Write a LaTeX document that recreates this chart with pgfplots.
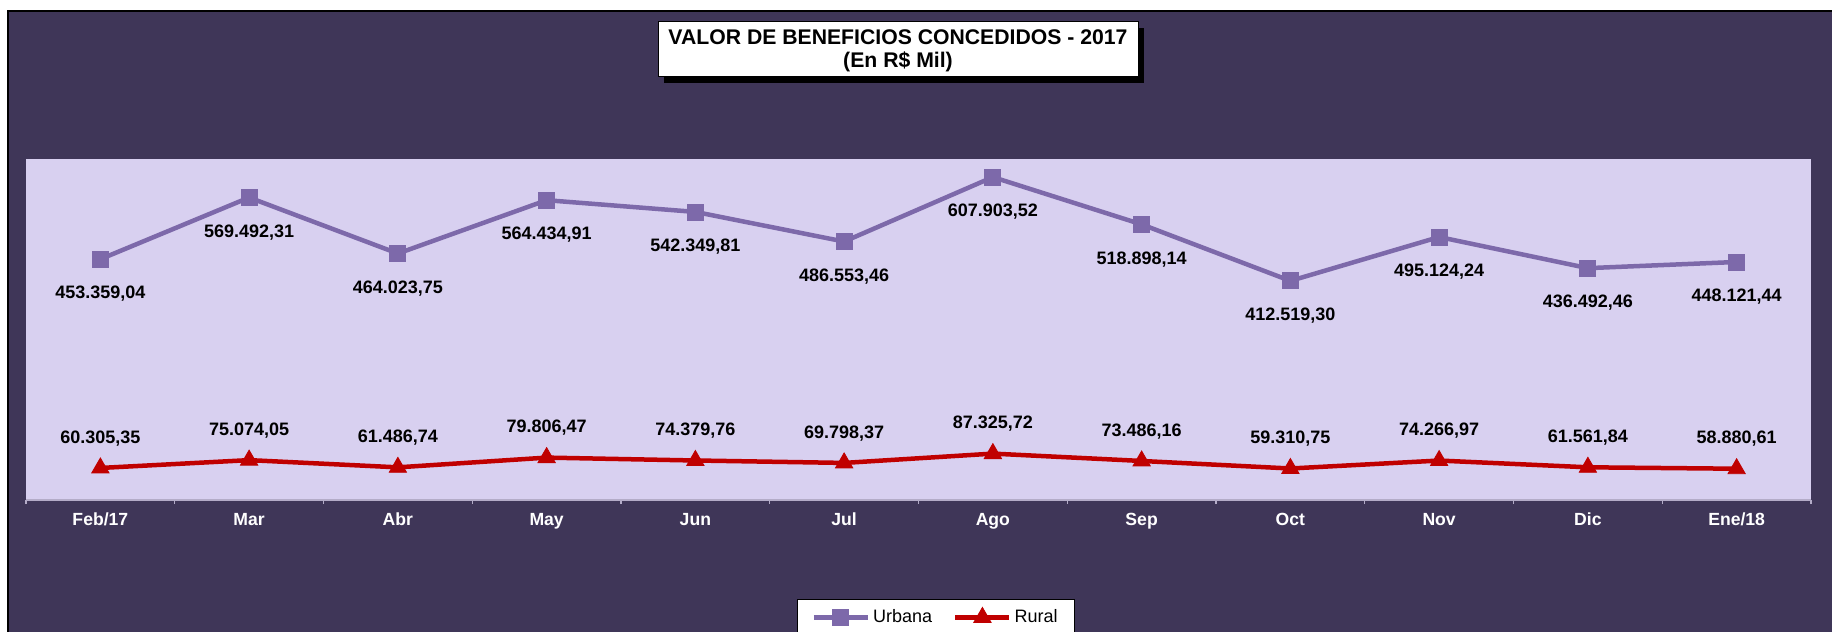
\documentclass[border=0pt]{standalone}
\usepackage{pgfplots}
\pgfplotsset{compat=1.18}
\usepackage{pgfplotstable}
\usepackage{fontspec}
\setmainfont{Liberation Sans}
\definecolor{bgdark}{HTML}{3F3658}
\definecolor{plotbg}{HTML}{D8D0F0}
\definecolor{urbana}{HTML}{7D69AA}
\definecolor{rural}{HTML}{C00000}
\definecolor{tickgray}{HTML}{B4ACC8}

% valores en R$ mil
\pgfplotstableread{
x urbana rural
0 453359.04 60305.35
1 569492.31 75074.05
2 464023.75 61486.74
3 564434.91 79806.47
4 542349.81 74379.76
5 486553.46 69798.37
6 607903.52 87325.72
7 518898.14 73486.16
8 412519.30 59310.75
9 495124.24 74266.97
10 436492.46 61561.84
11 448121.44 58880.61
}\datos

\begin{document}
\begin{tikzpicture}
\path[use as bounding box] (0pt,0pt) rectangle (916pt,316pt);
\clip (0pt,0pt) rectangle (916pt,316pt);
\fill[white] (0pt,0pt) rectangle (916pt,316pt);
\filldraw[fill=bgdark, draw=black, line width=0.6pt] (4pt,-5pt) rectangle (925pt,310.5pt);
% titulo
\fill[black] (332pt,274.5pt) rectangle (572pt,302pt);
\filldraw[fill=white, draw=black, line width=0.5pt] (329pt,277.5pt) rectangle (569pt,305pt);
\node[font=\bfseries\fontsize{10.6}{11.5}\selectfont, align=center] at (449pt,290.5pt)
  {VALOR DE BENEFICIOS CONCEDIDOS - 2017\\(En R\$ Mil)};

\begin{axis}[
    at={(13pt,66pt)}, anchor=south west,
    scale only axis, width=892.5pt, height=170.5pt,
    clip=false,
    axis background/.style={fill=plotbg},
    xmin=-0.5, xmax=11.5, ymin=0, ymax=642000,
    axis x line=bottom, axis y line=none,
    x axis line style={-, draw=tickgray, line width=0.6pt},
    xtick={0,...,11},
    xticklabels={Feb/17,Mar,Abr,May,Jun,Jul,Ago,Sep,Oct,Nov,Dic,Ene/18},
    major tick length=0pt,
    minor xtick={-0.5,0.5,...,11.5},
    minor tick length=2pt, tick align=outside,
    minor tick style={draw=tickgray, line width=0.6pt},
    xticklabel style={font=\bfseries\fontsize{8.8}{10}\selectfont, text=white, yshift=-3pt},
    ytick=\empty,
    nodes near coords={\pgfmathprintnumber[fixed,fixed zerofill,precision=2,use comma,1000 sep={.},assume math mode=true]{\pgfplotspointmeta}},
    every node near coord/.append style={font=\bfseries\fontsize{9}{10}\selectfont, text=black},
    legend style={at={(0.432,-0.290)}, anchor=north west, legend columns=2,
        draw=black, fill=white, line width=0.5pt,
        font=\fontsize{9}{11}\selectfont, inner xsep=7pt, inner ysep=3pt,
        nodes={inner xsep=1.5pt},
        /tikz/every even column/.append style={column sep=9pt}},
    legend image code/.code={\draw[mark repeat=2,mark phase=2,#1] plot coordinates {(0pt,0pt) (13.5pt,0pt) (27pt,0pt)};},
]
\addplot[urbana, line width=2.25pt, mark=square*, mark size=4pt,
    mark options={solid, fill=urbana, draw=urbana, line width=0.4pt},
    nodes near coords align={below},
    every node near coord/.append style={yshift=-10pt}]
    table[x=x, y=urbana] {\datos};
\addlegendentry{Urbana}
\addplot[rural, line width=2.25pt, mark=triangle*, mark size=5pt,
    mark options={solid, fill=rural, draw=rural, line width=0.4pt},
    nodes near coords align={above},
    every node near coord/.append style={yshift=7.5pt}]
    table[x=x, y=rural] {\datos};
\addlegendentry{Rural}
\end{axis}
\end{tikzpicture}
\end{document}
